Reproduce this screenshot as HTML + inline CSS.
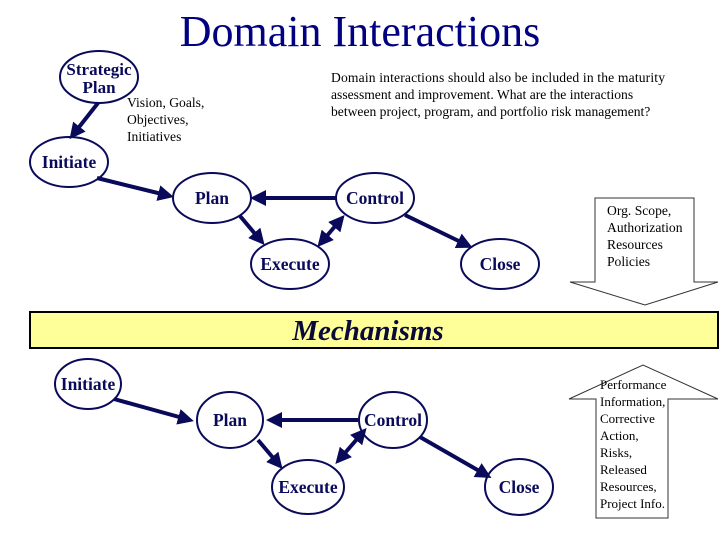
<!DOCTYPE html>
<html><head><style>
body{margin:0;background:#fff}
svg{display:block}
text{font-family:"Liberation Serif",serif}
</style></head><body>
<svg width="720" height="540" viewBox="0 0 720 540" xmlns="http://www.w3.org/2000/svg">
<defs>
<marker id="a" markerWidth="4" markerHeight="4" refX="3" refY="2" orient="auto" markerUnits="strokeWidth">
<path d="M0,0 L4,2 L0,4 z" fill="#0a0a5a"/></marker>
<marker id="b" markerWidth="4" markerHeight="4" refX="1" refY="2" orient="auto" markerUnits="strokeWidth">
<path d="M4,0 L0,2 L4,4 z" fill="#0a0a5a"/></marker>
</defs>
<text x="360" y="46" text-anchor="middle" font-size="44" fill="#000080">Domain Interactions</text>
<g font-size="13.6" fill="#000">
<text x="331" y="82" textLength="334">Domain interactions should also be included in the maturity</text>
<text x="331" y="99">assessment and improvement. What are the interactions</text>
<text x="331" y="116">between project, program, and portfolio risk management?</text>
<text x="127" y="107">Vision, Goals,</text>
<text x="127" y="124">Objectives,</text>
<text x="127" y="141">Initiatives</text>
</g>
<g fill="#fff" stroke="#0a0a5a" stroke-width="2">
<ellipse cx="99" cy="77" rx="39" ry="26"/>
<ellipse cx="69" cy="162" rx="39" ry="25"/>
<ellipse cx="212" cy="198" rx="39" ry="25"/>
<ellipse cx="375" cy="198" rx="39" ry="25"/>
<ellipse cx="290" cy="264" rx="39" ry="25"/>
<ellipse cx="500" cy="264" rx="39" ry="25"/>
<ellipse cx="88" cy="384" rx="33" ry="25"/>
<ellipse cx="230" cy="420" rx="33" ry="28"/>
<ellipse cx="393" cy="420" rx="34" ry="28"/>
<ellipse cx="308" cy="487" rx="36" ry="27"/>
<ellipse cx="519" cy="487" rx="34" ry="28"/>
</g>
<g stroke="#0a0a5a" stroke-width="4" fill="none" marker-end="url(#a)">
<line x1="98" y1="103" x2="72" y2="136"/>
<line x1="97" y1="178" x2="170" y2="196"/>
<line x1="336" y1="198" x2="254" y2="198"/>
<line x1="240" y1="216" x2="262" y2="242"/>
<line x1="342" y1="218" x2="320" y2="244" marker-start="url(#b)"/>
<line x1="405" y1="215" x2="469" y2="246"/>
<line x1="114" y1="399" x2="190" y2="420"/>
<line x1="358" y1="420" x2="270" y2="420"/>
<line x1="258" y1="440" x2="280" y2="466"/>
<line x1="364" y1="431" x2="338" y2="461" marker-start="url(#b)"/>
<line x1="420" y1="437" x2="488" y2="476"/>
</g>
<g font-family="Liberation Serif" font-weight="bold" font-size="17.5" fill="#0a0a5a" text-anchor="middle">
<text x="99" y="75" font-size="17">Strategic</text>
<text x="99" y="93" font-size="17">Plan</text>
<text x="69" y="168">Initiate</text>
<text x="212" y="204">Plan</text>
<text x="375" y="204">Control</text>
<text x="290" y="270">Execute</text>
<text x="500" y="270">Close</text>
<text x="88" y="390">Initiate</text>
<text x="230" y="426">Plan</text>
<text x="393" y="426">Control</text>
<text x="308" y="493">Execute</text>
<text x="519" y="493">Close</text>
</g>
<polygon points="595,198 694,198 694,282 718,282 645,305 570,282 595,282" fill="#fff" stroke="#333" stroke-width="1"/>
<g font-size="13.6" fill="#000">
<text x="607" y="215">Org. Scope,</text>
<text x="607" y="232">Authorization</text>
<text x="607" y="249">Resources</text>
<text x="607" y="266">Policies</text>
</g>
<rect x="30" y="312" width="688" height="36" fill="#ffff99" stroke="#000" stroke-width="2"/>
<text x="368" y="340" text-anchor="middle" font-size="29" font-weight="bold" font-style="italic" fill="#0a0a3a">Mechanisms</text>
<polygon points="596,518 596,399 569,399 643,365 718,399 668,399 668,518" fill="#fff" stroke="#333" stroke-width="1"/>
<g font-size="13" fill="#000">
<text x="600" y="389">Performance</text>
<text x="600" y="406">Information,</text>
<text x="600" y="423">Corrective</text>
<text x="600" y="440">Action,</text>
<text x="600" y="457">Risks,</text>
<text x="600" y="474">Released</text>
<text x="600" y="491">Resources,</text>
<text x="600" y="508">Project Info.</text>
</g>
</svg>
</body></html>
